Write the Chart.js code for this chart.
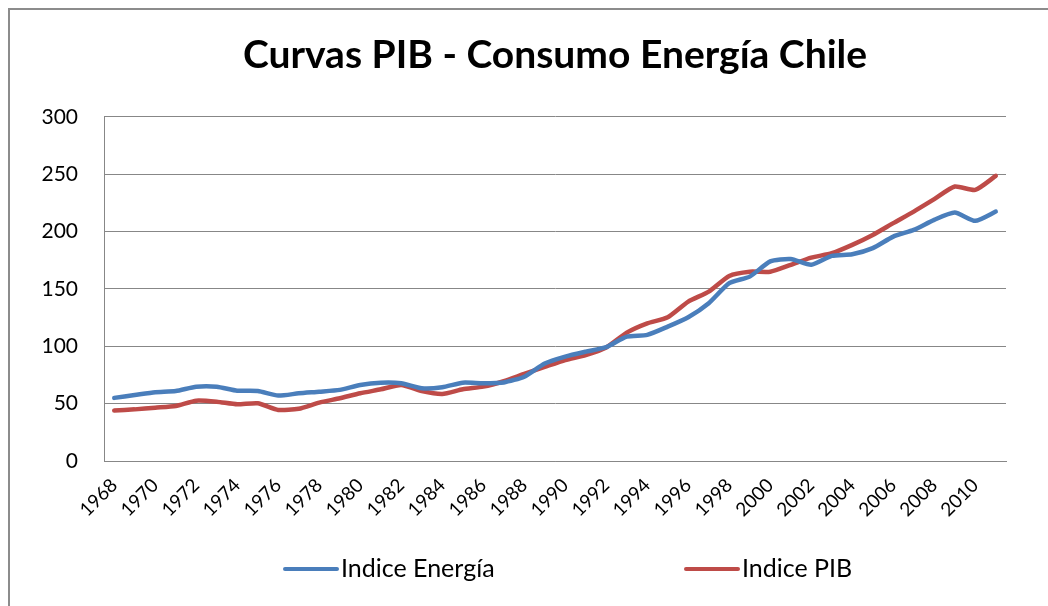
<!DOCTYPE html>
<html>
<head>
<meta charset="utf-8">
<title>Curvas PIB - Consumo Energía Chile</title>
<script src="https://cdn.jsdelivr.net/npm/chart.js@4/dist/chart.umd.min.js"></script>
<style>
	html, body { margin: 0; padding: 0; background: #ffffff; }
	#wrap { position: relative; width: 1048px; height: 606px; }
</style>
</head>
<body>
<div id="wrap"><canvas id="pibChart" width="1048" height="606"></canvas></div>
<script>
// datos
var years = [];
for (var y = 1968; y <= 2011; y++) {
	years.push(String(y));
}

var indiceEnergia = [
	55, 57.5, 60, 61, 64.8, 64.8, 61.3, 61, 57, 59,
	60.4, 62, 66.3, 68.3, 67.8, 63.4, 64.3, 68.3, 67.8, 68.5,
	73.5, 85, 91, 95.3, 99.2, 108.4, 109.9, 117.1, 125.3, 137.5,
	155, 160.7, 174, 176, 171, 178.8, 180.2, 185.5, 195.6, 201.4,
	210.2, 216.5, 209.3, 217.4
];

var indicePIB = [
	44, 45, 46.5, 48, 52.6, 51.7, 49.4, 50.3, 44.5, 45.5,
	50.9, 54.7, 59, 62.5, 66.3, 61, 58.4, 62.5, 64.8, 69.5,
	75.9, 82, 88, 92.4, 99, 111.9, 120, 125.3, 138.9, 147.6,
	161.3, 165, 165, 171, 177.3, 181.1, 188.4, 197, 207.3, 217.4,
	228.2, 239.2, 236.3, 248.5
];

var yMin = 0;
var yMax = 300;
var yStep = 50;

var gridColor = "#878787";
var fontName = "Lato, 'Liberation Sans', sans-serif";

// marco gris del grafico (izquierda y arriba)
var framePlugin = {
	id: "frame",
	beforeDraw: function (chart) {
		var ctx = chart.ctx;
		ctx.save();
		ctx.strokeStyle = "#8c8c8c";
		ctx.lineWidth = 2;
		ctx.beginPath();
		ctx.moveTo(9, chart.height);
		ctx.lineTo(9, 9);
		ctx.lineTo(chart.width, 9);
		ctx.stroke();
		ctx.restore();
	},
};

// leyenda abajo, con separacion grande como en Excel
var legendPlugin = {
	id: "bottomLegend",
	afterDraw: function (chart) {
		var ctx = chart.ctx;
		var items = [
			{ x: 285, ds: chart.data.datasets[0] },
			{ x: 686, ds: chart.data.datasets[1] },
		];
		var yMid = 569;
		ctx.save();
		items.forEach(function (item) {
			ctx.strokeStyle = item.ds.borderColor;
			ctx.lineWidth = 4;
			ctx.lineCap = "round";
			ctx.beginPath();
			ctx.moveTo(item.x, yMid);
			ctx.lineTo(item.x + 52, yMid);
			ctx.stroke();
			ctx.fillStyle = "#000000";
			ctx.font = "25px " + fontName;
			ctx.textBaseline = "middle";
			ctx.textAlign = "left";
			ctx.fillText(item.ds.label, item.x + 56, yMid);
		});
		ctx.restore();
	},
};

var chartConfig = {
	type: "line",
	data: {
		labels: years,
		datasets: [
			{
				label: "Indice Energía",
				data: indiceEnergia,
				borderColor: "#4A7EBB",
				backgroundColor: "#4A7EBB",
				borderWidth: 4.5,
				pointRadius: 0,
				tension: 0.2,
				borderCapStyle: "round",
				borderJoinStyle: "round",
			},
			{
				label: "Indice PIB",
				data: indicePIB,
				borderColor: "#BE4B48",
				backgroundColor: "#BE4B48",
				borderWidth: 4.5,
				pointRadius: 0,
				tension: 0.2,
				borderCapStyle: "round",
				borderJoinStyle: "round",
			},
		],
	},
	options: {
		responsive: false,
		animation: false,
		layout: {
			padding: { left: 30, right: 42, top: 0, bottom: 0 },
		},
		plugins: {
			legend: { display: false },
			tooltip: { enabled: false },
			title: {
				display: true,
				fullSize: false,
				text: "Curvas PIB - Consumo Energía Chile",
				color: "#000000",
				font: { family: fontName, size: 39, weight: "bold", lineHeight: 1.2 },
				padding: { top: 32, bottom: 38 },
			},
		},
		scales: {
			x: {
				offset: true,
				grid: { display: false, drawTicks: false },
				border: { display: true, color: gridColor, width: 1 },
				ticks: {
					autoSkip: false,
					minRotation: 45,
					maxRotation: 45,
					padding: 13,
					color: "#000000",
					font: { family: fontName, size: 19 },
					callback: function (value, index) {
						return index % 2 === 0 ? years[index] : null;
					},
				},
				afterFit: function (scale) {
					scale.height = 145;
				},
			},
			y: {
				min: yMin,
				max: yMax,
				grid: { color: gridColor, lineWidth: 1, drawTicks: false },
				border: { display: true, color: gridColor, width: 1 },
				ticks: {
					stepSize: yStep,
					padding: 26,
					color: "#000000",
					font: { family: fontName, size: 21 },
				},
				afterFit: function (scale) {
					scale.width = 74;
				},
			},
		},
	},
	plugins: [framePlugin, legendPlugin],
};

var chart = new Chart(document.getElementById("pibChart"), chartConfig);
</script>
</body>
</html>
